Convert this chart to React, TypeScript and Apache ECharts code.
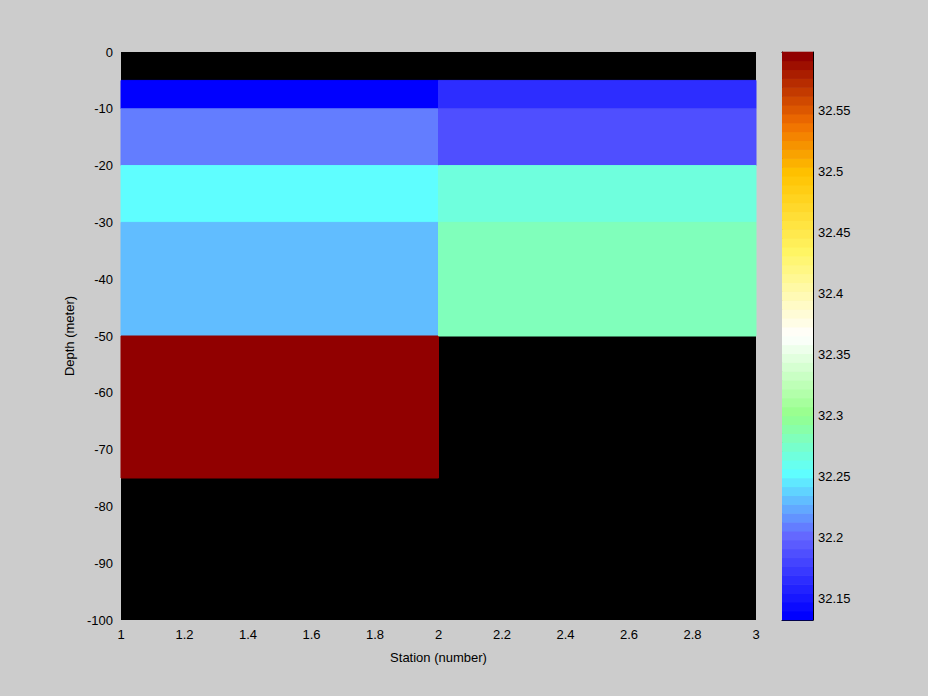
import React, { useEffect, useRef } from "react";
import * as echarts from "echarts";

// ---- data ----
const stationEdges = [1, 2, 3];
const depthEdges = [0, -5, -10, -20, -30, -50, -75, -100];
const salinityStation1 = [null, 32.133, 32.205, 32.25, 32.233, 32.597, null];
const salinityStation2 = [null, 32.163, 32.19, 32.265, 32.282, null, null];
const colorbarTicks = [32.15, 32.2, 32.25, 32.3, 32.35, 32.4, 32.45, 32.5, 32.55];
const colorMin = 32.132;
const colorMax = 32.598;
const nLevels = 64;

// colormap stops (fraction, rgb)
const cmapStops: [number, number[]][] = [
  [0, [0, 0, 255]],
  [0.14, [100, 100, 255]],
  [0.255, [95, 255, 255]],
  [0.36, [150, 255, 140]],
  [0.5, [255, 255, 255]],
  [0.65, [255, 245, 100]],
  [0.79, [255, 195, 0]],
  [0.88, [240, 110, 0]],
  [1, [145, 0, 0]],
];

function cmapAt(t: number): string {
  t = Math.max(0, Math.min(1, t));
  for (let i = 0; i < cmapStops.length - 1; i++) {
    const [t0, c0] = cmapStops[i];
    const [t1, c1] = cmapStops[i + 1];
    if (t <= t1) {
      const f = (t - t0) / (t1 - t0);
      const c = c0.map((v, k) => Math.round(v + (c1[k] - v) * f));
      return `rgb(${c[0]},${c[1]},${c[2]})`;
    }
  }
  const c = cmapStops[cmapStops.length - 1][1];
  return `rgb(${c[0]},${c[1]},${c[2]})`;
}

function levelColor(i: number): string {
  return cmapAt(i / (nLevels - 1));
}

function valueColor(v: number): string {
  let lvl = Math.floor(((v - colorMin) / (colorMax - colorMin)) * nLevels);
  lvl = Math.max(0, Math.min(nLevels - 1, lvl));
  return levelColor(lvl);
}

const FONT = "Liberation Sans";

export default function App() {
  const ref = useRef<HTMLDivElement>(null);
  useEffect(() => {
    if (!ref.current) return;
    const chart = echarts.init(ref.current, null, { renderer: "svg" });

    const cells: any[] = [];
    [salinityStation1, salinityStation2].forEach((col, j) => {
      col.forEach((v, i) => {
        if (v === null) return;
        cells.push([stationEdges[j], stationEdges[j + 1], depthEdges[i], depthEdges[i + 1], v]);
      });
    });

    const levels: any[] = [];
    const step = (colorMax - colorMin) / nLevels;
    for (let i = 0; i < nLevels; i++) {
      levels.push([0, 1, colorMin + i * step, colorMin + (i + 1) * step, i]);
    }

    const textStyle = { color: "#000", fontFamily: FONT, fontSize: 13 };

    chart.setOption({
      animation: false,
      backgroundColor: "#cccccc",
      textStyle: { fontFamily: FONT },
      grid: [
        { left: 121, top: 52, width: 635, height: 568, show: true, backgroundColor: "#000", borderWidth: 0 },
        { left: 782, top: 52, width: 31, height: 568, show: false },
      ],
      xAxis: [
        {
          type: "value",
          gridIndex: 0,
          min: 1,
          max: 3,
          interval: 0.2,
          name: "Station (number)",
          nameLocation: "middle",
          nameGap: 31,
          nameTextStyle: textStyle,
          axisLine: { show: false },
          axisTick: { show: false },
          splitLine: { show: false },
          axisLabel: { ...textStyle, margin: 8 },
        },
        {
          type: "value",
          gridIndex: 1,
          min: 0,
          max: 1,
          position: "bottom",
          axisLine: { show: true, onZero: false, lineStyle: { color: "#000", width: 1 } },
          axisTick: { show: false },
          axisLabel: { show: false },
          splitLine: { show: false },
        },
        {
          type: "value",
          gridIndex: 1,
          min: 0,
          max: 1,
          position: "top",
          axisLine: { show: true, onZero: false, lineStyle: { color: "#000", width: 1 } },
          axisTick: { show: false },
          axisLabel: { show: false },
          splitLine: { show: false },
        },
      ],
      yAxis: [
        {
          type: "value",
          gridIndex: 0,
          min: -100,
          max: 0,
          interval: 10,
          name: "Depth (meter)",
          nameLocation: "middle",
          nameGap: 37,
          nameTextStyle: textStyle,
          axisLine: { show: false },
          axisTick: { show: false },
          splitLine: { show: false },
          axisLabel: { ...textStyle, margin: 8 },
        },
        {
          type: "value",
          gridIndex: 1,
          min: colorMin,
          max: colorMax,
          position: "left",
          axisLine: { show: true, onZero: false, lineStyle: { color: "#000", width: 1 } },
          axisTick: { show: true, inside: true, length: 5, lineStyle: { color: "#000" }, customValues: colorbarTicks },
          axisLabel: { show: false },
          splitLine: { show: false },
        },
        {
          type: "value",
          gridIndex: 1,
          min: colorMin,
          max: colorMax,
          position: "right",
          axisLine: { show: true, onZero: false, lineStyle: { color: "#000", width: 1 } },
          axisTick: { show: true, inside: true, length: 5, lineStyle: { color: "#000" }, customValues: colorbarTicks },
          axisLabel: { ...textStyle, margin: 5, customValues: colorbarTicks, formatter: (v: number) => String(+v.toFixed(2)) },
          splitLine: { show: false },
        },
      ],
      series: [
        {
          type: "custom",
          xAxisIndex: 0,
          yAxisIndex: 0,
          data: cells,
          encode: { x: [0, 1], y: [2, 3] },
          renderItem: (params: any, api: any) => {
            const p0 = api.coord([api.value(0), api.value(2)]);
            const p1 = api.coord([api.value(1), api.value(3)]);
            const fill = valueColor(api.value(4));
            return {
              type: "rect",
              shape: { x: p0[0], y: p0[1], width: p1[0] - p0[0], height: p1[1] - p0[1] },
              style: { fill, stroke: fill, lineWidth: 1 },
            };
          },
        },
        {
          type: "custom",
          xAxisIndex: 1,
          yAxisIndex: 1,
          data: levels,
          encode: { x: [0, 1], y: [2, 3] },
          z: 1,
          renderItem: (params: any, api: any) => {
            const p0 = api.coord([api.value(0), api.value(3)]);
            const p1 = api.coord([api.value(1), api.value(2)]);
            return {
              type: "rect",
              shape: { x: p0[0], y: p0[1] - 0.3, width: p1[0] - p0[0], height: p1[1] - p0[1] + 0.6 },
              style: { fill: levelColor(api.value(4)), stroke: null },
            };
          },
        },
      ],
    });
    return () => chart.dispose();
  }, []);
  return <div ref={ref} style={{ position: "absolute", left: 0, top: 0, width: 928, height: 696 }} />;
}
